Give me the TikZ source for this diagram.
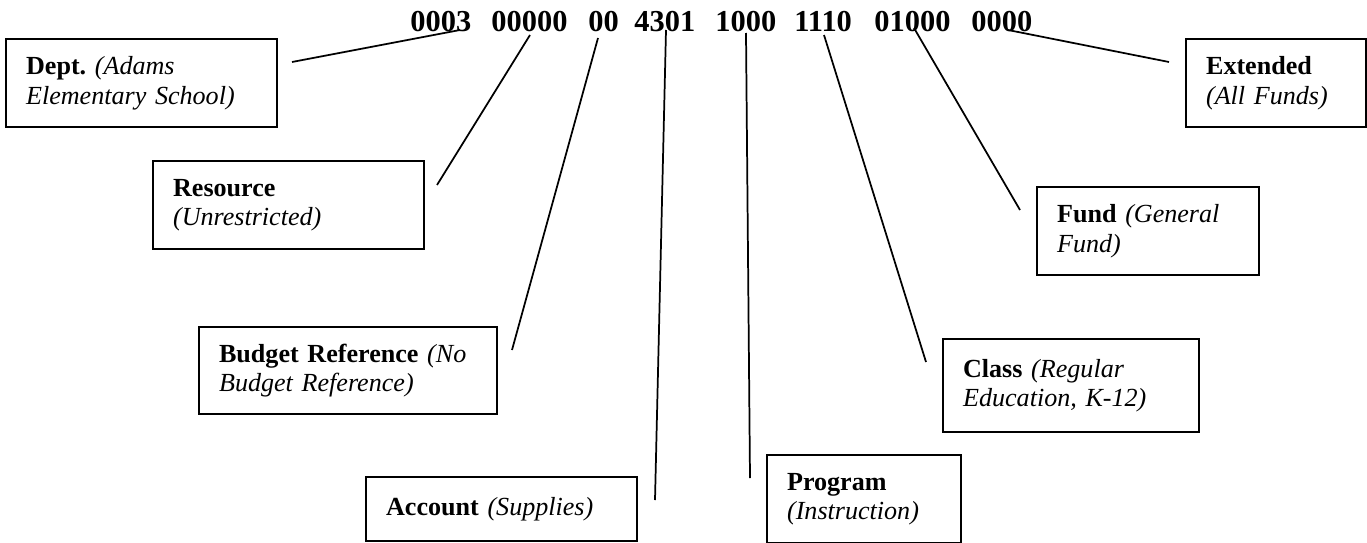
\documentclass[tikz,border=0pt]{standalone}
\usepackage{fontspec}
\setmainfont{Liberation Serif}
\usepackage{tikz}
\frenchspacing

\begin{document}
\begin{tikzpicture}[x=0.46pt,y=-0.46pt,
  box/.style={draw,line width=1pt,anchor=north west,inner xsep=9.2pt,inner ysep=0pt,align=left,font=\fontsize{12}{13.5}\selectfont},
  code/.style={anchor=base west,inner sep=0pt,font=\fontsize{14}{16}\selectfont\bfseries},
  lead/.style={line width=0.8pt}]
\useasboundingbox (0,0) rectangle (1367,543);
% account string, one node per field
\node[code] (dept-no) at (410,32) {0003};
\node[code] (res-no) at (491,32) {00000};
\node[code] (bud-no) at (588,32) {00};
\node[code] (acc-no) at (634,32) {4301};
\node[code] (prog-no) at (715,32) {1000};
\node[code] (cls-no) at (794,32) {1110};
\node[code] (fund-no) at (874,32) {01000};
\node[code] (ext-no) at (971,32) {0000};
% boxes, positions in pixels
\node[box,text width=106.3pt,minimum height=40.5pt] (dept) at (5,38) {\textbf{Dept.} \textit{(Adams}\\\textit{Elementary School)}};
\node[box,text width=106.3pt,minimum height=40.5pt] (res) at (152,160) {\textbf{Resource}\\\textit{(Unrestricted)}};
\node[box,text width=118.7pt,minimum height=40pt] (bud) at (198,326) {\textbf{Budget Reference} \textit{(No}\\\textit{Budget Reference)}};
\node[box,text width=106.3pt,minimum height=29.4pt] (acc) at (365,476) {\textbf{Account} \textit{(Supplies)}};
\node[box,text width=70.8pt,minimum height=40.5pt] (prog) at (766,454) {\textbf{Program}\\\textit{(Instruction)}};
\node[box,text width=99.4pt,minimum height=42.8pt] (cls) at (942,338) {\textbf{Class} \textit{(Regular}\\\textit{Education, K-12)}};
\node[box,text width=83.7pt,minimum height=40.5pt] (fund) at (1036,186) {\textbf{Fund} \textit{(General}\\\textit{Fund)}};
\node[box,text width=64.4pt,minimum height=40.5pt] (ext) at (1185,38) {\textbf{Extended}\\\textit{(All Funds)}};
% leader ends
\coordinate (dept-a) at (292,62);   \coordinate (dept-b) at (460,30);
\coordinate (res-a) at (437,185);   \coordinate (res-b) at (530,35);
\coordinate (bud-a) at (512,350);   \coordinate (bud-b) at (598,38);
\coordinate (acc-a) at (655,500);   \coordinate (acc-b) at (666,30);
\coordinate (prog-a) at (750,478);  \coordinate (prog-b) at (746,33);
\coordinate (cls-a) at (926,362);   \coordinate (cls-b) at (824,35);
\coordinate (fund-a) at (1020,210); \coordinate (fund-b) at (914,28);
\coordinate (ext-a) at (1169,62);   \coordinate (ext-b) at (1008,30);
\draw[lead] (dept-a)--(dept-b);
\draw[lead] (res-a)--(res-b);
\draw[lead] (bud-a)--(bud-b);
\draw[lead] (acc-a)--(acc-b);
\draw[lead] (prog-a)--(prog-b);
\draw[lead] (cls-a)--(cls-b);
\draw[lead] (fund-a)--(fund-b);
\draw[lead] (ext-a)--(ext-b);
\end{tikzpicture}
\end{document}
